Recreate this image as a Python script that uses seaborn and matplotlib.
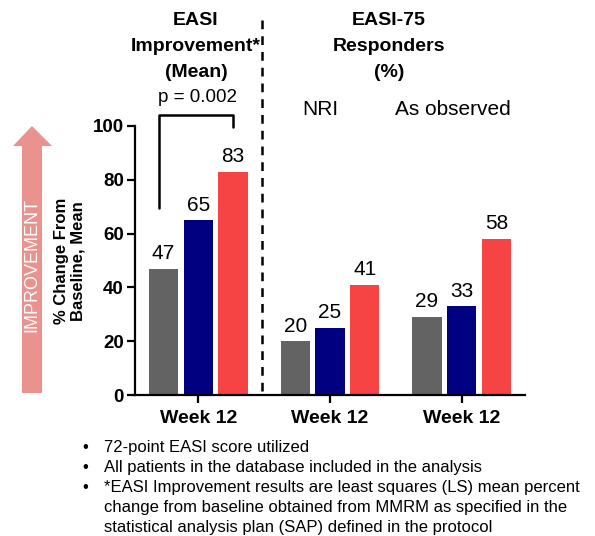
import matplotlib
matplotlib.use("Agg")
import matplotlib.pyplot as plt
from matplotlib.patches import Polygon
from matplotlib.lines import Line2D
import seaborn as sns
import pandas as pd

# ---- data ----
groups = ["EASI Improvement", "EASI-75 NRI", "EASI-75 As observed"]
tick_labels = ["Week 12", "Week 12", "Week 12"]
arms = ["Arm 1", "Arm 2", "Arm 3"]
arm_1 = [47, 20, 29]
arm_2 = [65, 25, 33]
arm_3 = [83, 41, 58]
arm_colors = ["#636363", "#000080", "#F64444"]
y_ticks = [0, 20, 40, 60, 80, 100]
p_value_text = "p = 0.002"
footnotes = [
    ["72-point EASI score utilized"],
    ["All patients in the database included in the analysis"],
    ["*EASI Improvement results are least squares (LS) mean percent",
     "change from baseline obtained from MMRM as specified in the",
     "statistical analysis plan (SAP) defined in the protocol"],
]

rows = []
for arm, vals in zip(arms, [arm_1, arm_2, arm_3]):
    for g, v in zip(groups, vals):
        rows.append({"group": g, "arm": arm, "value": v})
df = pd.DataFrame(rows)

sns.set_theme(style="white")
plt.rcParams["font.family"] = ["Liberation Sans", "DejaVu Sans"]
plt.rcParams.update({"text.color": "black", "axes.labelcolor": "black",
                     "xtick.color": "black", "ytick.color": "black"})

W, H = 595, 536
fig = plt.figure(figsize=(W / 100, H / 100), dpi=100)


def fx(px):
    return px / W


def fy(py):
    return 1 - py / H


ax = fig.add_axes([fx(135), fy(395), (525 - 135) / W, (395 - 126) / H])
sns.barplot(data=df, x="group", y="value", hue="arm", order=groups,
            hue_order=arms, palette=arm_colors, saturation=1,
            width=0.79, gap=0.16, linewidth=0, legend=False, ax=ax)

ax.set_xlim(-0.48, 2.48)
ax.set_ylim(0, 100)
ax.set_yticks(y_ticks)
ax.set_xticks(range(len(groups)))
ax.set_xticklabels(tick_labels, fontsize=14, fontweight="bold")
for lbl in ax.get_yticklabels():
    lbl.set_fontsize(13.5)
    lbl.set_fontweight("bold")
ax.set_xlabel("")
ax.set_ylabel("")
for side in ["top", "right"]:
    ax.spines[side].set_visible(False)
for side in ["left", "bottom"]:
    ax.spines[side].set_linewidth(1.6)
    ax.spines[side].set_color("black")
ax.spines["bottom"].set_bounds(-0.48, 2.48)
ax.tick_params(axis="both", which="major", direction="out", length=6,
               width=1.6, color="black", labelcolor="black", pad=2,
               bottom=True, left=True)
ax.tick_params(axis="x", pad=5)

for cont in ax.containers:
    ax.bar_label(cont, labels=[f"{v:.0f}" for v in cont.datavalues],
                 padding=4, fontsize=15, color="black")

# significance bracket between the outer arms of the first group
bars_first = [cont.patches[0] for cont in ax.containers]
x_left = bars_first[0].get_x() + bars_first[0].get_width() * 0.35
x_right = bars_first[2].get_x() + bars_first[2].get_width() / 2
ax.add_line(Line2D([x_left, x_left, x_right, x_right], [69.5, 104.2, 104.2, 99.6],
                   color="black", lw=1.8, clip_on=False))

# dashed separator between the two panels
fig.add_artist(Line2D([fx(262), fx(262)], [fy(20), fy(392)], color="black",
                      lw=1.8, linestyle=(0, (3.5, 2.8))))

# panel headings
title_kw = dict(ha="center", va="baseline", fontsize=14, fontweight="bold")
for txt, yb in zip(["EASI", "Improvement*", "(Mean)"], [25, 51, 77]):
    fig.text(fx(196), fy(yb), txt, **title_kw)
fig.text(fx(198), fy(102), p_value_text, ha="center", va="baseline", fontsize=13.5)
for txt, yb in zip(["EASI-75", "Responders", "(%)"], [25, 51, 77]):
    fig.text(fx(389), fy(yb), txt, **title_kw)
fig.text(fx(320), fy(115), "NRI", ha="center", va="baseline", fontsize=15)
fig.text(fx(453), fy(115), "As observed", ha="center", va="baseline", fontsize=15)

# improvement arrow
arrow_pts = [(22, 393), (22, 146), (13, 146), (32, 126), (52, 146), (42, 146), (42, 393)]
fig.add_artist(Polygon([(fx(x), fy(y)) for x, y in arrow_pts], closed=True,
                       facecolor="#EA928E", edgecolor="none"))
fig.text(fx(32), fy(265), "IMPROVEMENT", rotation=90, ha="center", va="center",
         color="white", fontsize=13)

# y-axis title
fig.text(fx(70), fy(261), "% Change From\nBaseline, Mean", rotation=90,
         ha="center", va="center", multialignment="center", fontsize=12,
         fontweight="bold", linespacing=1.1)

# footnotes
yb = 452
for item in footnotes:
    fig.text(fx(85), fy(yb), "\u2022", ha="center", va="baseline", fontsize=12)
    for line in item:
        fig.text(fx(104), fy(yb), line, ha="left", va="baseline", fontsize=12)
        yb += 20

fig.savefig("out.png", dpi=100, facecolor="white")
